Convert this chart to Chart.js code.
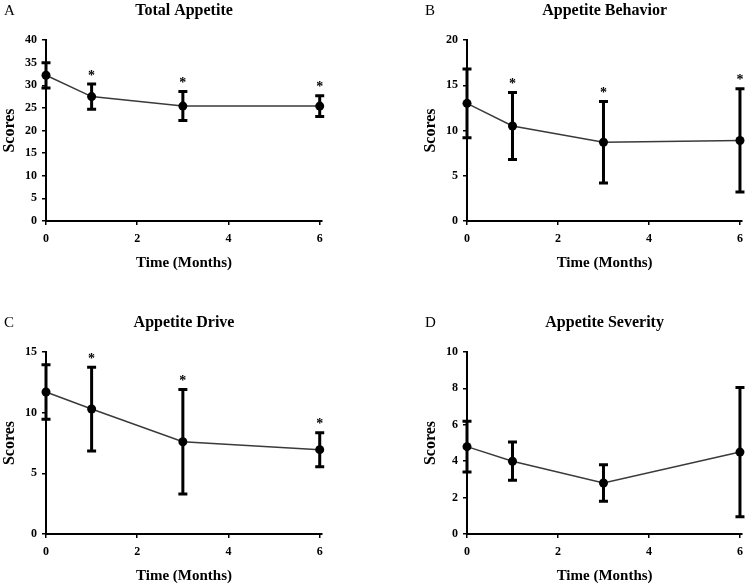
<!DOCTYPE html>
<html>
<head>
<meta charset="utf-8">
<script src="https://cdn.jsdelivr.net/npm/chart.js@4.4.1/dist/chart.umd.min.js"></script>
<style>
  html, body { margin: 0; padding: 0; background: #fff; }
  #wrap { position: relative; width: 750px; height: 585px; }
  canvas { position: absolute; }
</style>
</head>
<body>
<div id="wrap">
  <canvas id="panelA" width="375" height="292" style="left:0;top:0"></canvas>
  <canvas id="panelB" width="375" height="292" style="left:375px;top:0"></canvas>
  <canvas id="panelC" width="375" height="293" style="left:0;top:292px"></canvas>
  <canvas id="panelD" width="375" height="293" style="left:375px;top:292px"></canvas>
</div>
<script>
// --- data ---
const months = [0, 1, 3, 6];
const monthTicks = [0, 2, 4, 6];

const totalMean = [32.2, 27.5, 25.4, 25.4];
const totalErr = [2.8, 2.8, 3.2, 2.3];
const totalStar = [false, true, true, true];

const behaviorMean = [13.0, 10.5, 8.7, 8.9];
const behaviorErr = [3.8, 3.7, 4.5, 5.7];
const behaviorStar = [false, true, true, true];

const driveMean = [11.7, 10.3, 7.6, 6.95];
const driveErr = [2.25, 3.45, 4.3, 1.4];
const driveStar = [false, true, true, true];

const severityMean = [4.8, 4.0, 2.8, 4.5];
const severityErr = [1.4, 1.05, 1.0, 3.55];
const severityStar = [false, false, false, false];

const SERIF = "'Liberation Serif', 'Times New Roman', serif";

// error bars, asterisks, panel letter and title
function decorPlugin(p) {
    return {
        id: 'decor',
        afterDatasetsDraw(chart) {
            const { ctx, chartArea, scales: { x, y } } = chart;
            ctx.save();
            ctx.strokeStyle = '#000';
            ctx.fillStyle = '#000';
            ctx.lineWidth = 3;
            p.mean.forEach((m, i) => {
                const px = x.getPixelForValue(months[i]);
                const hi = y.getPixelForValue(m + p.err[i]);
                const lo = y.getPixelForValue(m - p.err[i]);
                ctx.beginPath();
                ctx.moveTo(px, hi); ctx.lineTo(px, lo);
                ctx.moveTo(px - 4.5, hi); ctx.lineTo(px + 4.5, hi);
                ctx.moveTo(px - 4.5, lo); ctx.lineTo(px + 4.5, lo);
                ctx.stroke();
                if (p.star[i]) {
                    ctx.font = 'bold 14px ' + SERIF;
                    ctx.textAlign = 'center';
                    ctx.textBaseline = 'middle';
                    ctx.fillText('*', px, hi - 8);
                }
            });
            // titles
            ctx.textBaseline = 'middle';
            ctx.font = '15px ' + SERIF;
            ctx.textAlign = 'left';
            ctx.fillText(p.letter, p.letterX, p.titleY);
            ctx.font = 'bold 16px ' + SERIF;
            ctx.textAlign = 'center';
            ctx.fillText(p.title, (chartArea.left + chartArea.right) / 2, p.titleY);
            ctx.restore();
        }
    };
}

function makePanel(p) {
    const canvas = document.getElementById(p.id);
    const H = canvas.height;
    const tickFont = { family: SERIF, size: 12, weight: 'bold' };
    const titleFont = { family: SERIF, size: 15, weight: 'bold' };

    new Chart(canvas.getContext('2d'), {
        type: 'scatter',
        data: {
            datasets: [{
                data: months.map((m, i) => ({ x: m, y: p.mean[i] })),
                showLine: true,
                borderColor: '#3a3a3a',
                borderWidth: 1.5,
                pointRadius: 4.5,
                pointBackgroundColor: '#000',
                pointBorderWidth: 0,
                clip: false
            }]
        },
        options: {
            responsive: false,
            animation: false,
            events: [],
            layout: { padding: { left: p.left - 46, top: p.top, right: 375 - p.right, bottom: 0 } },
            plugins: { legend: { display: false }, title: { display: false }, tooltip: { enabled: false } },
            scales: {
                x: {
                    type: 'linear',
                    min: 0,
                    max: 6.05,
                    afterBuildTicks: s => { s.ticks = monthTicks.map(v => ({ value: v })); },
                    afterFit: s => { s.height = H - p.bottom; },
                    ticks: { color: '#000', font: tickFont, padding: 7 },
                    grid: { drawOnChartArea: false, drawTicks: true, tickLength: 4, color: '#000', lineWidth: 1.5 },
                    border: { color: '#000', width: 2 },
                    title: { display: true, text: 'Time (Months)', color: '#000', font: titleFont,
                             padding: { top: 0, bottom: p.xTitlePad } }
                },
                y: {
                    min: 0,
                    max: p.yMax,
                    ticks: { stepSize: p.yStep, color: '#000', font: tickFont, padding: 5 },
                    afterFit: s => { s.width = 46; },
                    grid: { drawOnChartArea: false, drawTicks: true, tickLength: 4, color: '#000', lineWidth: 1.5 },
                    border: { color: '#000', width: 2 },
                    title: { display: true, text: 'Scores', color: '#000', font: { family: SERIF, size: 16, weight: 'bold' },
                             padding: { top: 0, bottom: 0 } }
                }
            }
        },
        plugins: [decorPlugin(p)]
    });
}

makePanel({ id: 'panelA', letter: 'A', title: 'Total Appetite', mean: totalMean, err: totalErr, star: totalStar,
    yMax: 40, yStep: 5, left: 46, right: 322, top: 40, bottom: 221, letterX: 4, titleY: 11, xTitlePad: 20 });
makePanel({ id: 'panelB', letter: 'B', title: 'Appetite Behavior', mean: behaviorMean, err: behaviorErr, star: behaviorStar,
    yMax: 20, yStep: 5, left: 92, right: 743, top: 40, bottom: 221, letterX: 50, titleY: 11, xTitlePad: 20 });
makePanel({ id: 'panelC', letter: 'C', title: 'Appetite Drive', mean: driveMean, err: driveErr, star: driveStar,
    yMax: 15, yStep: 5, left: 46, right: 322, top: 60, bottom: 242, letterX: 4, titleY: 31, xTitlePad: 0 });
makePanel({ id: 'panelD', letter: 'D', title: 'Appetite Severity', mean: severityMean, err: severityErr, star: severityStar,
    yMax: 10, yStep: 2, left: 92, right: 743, top: 60, bottom: 242, letterX: 50, titleY: 31, xTitlePad: 0 });
</script>
</body>
</html>
